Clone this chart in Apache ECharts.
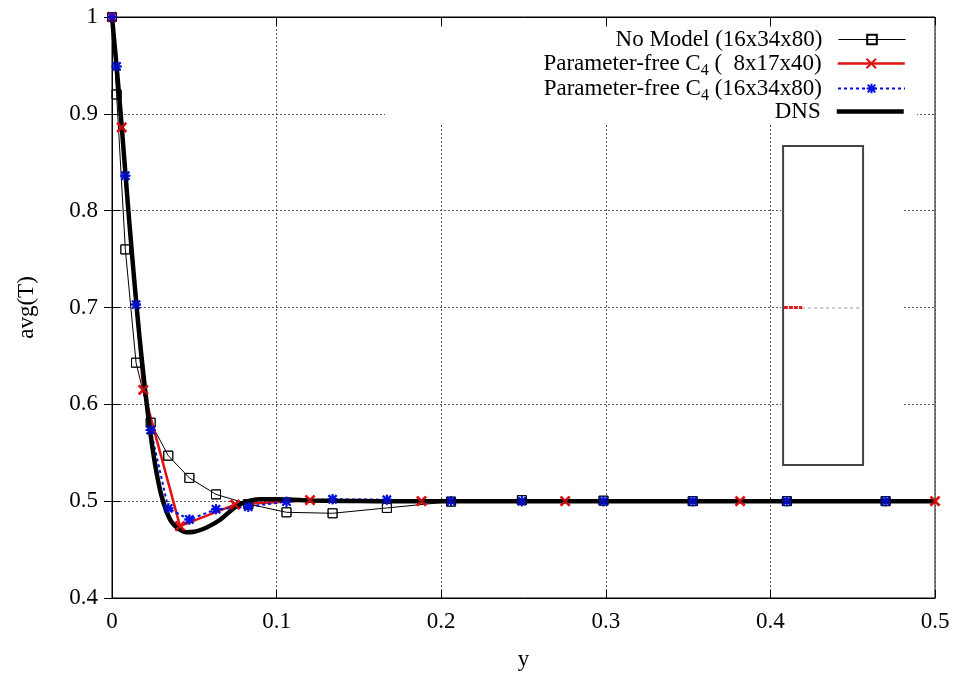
<!DOCTYPE html>
<html>
<head>
<meta charset="utf-8">
<script src="https://cdn.jsdelivr.net/npm/echarts@6/dist/echarts.min.js"></script>
<style>
  html, body { margin: 0; padding: 0; background: #fff; }
  #chart { width: 968px; height: 674px; }
</style>
</head>
<body>
<div id="chart"></div>
<script>
// Wall-normal positions of the 16x34x80 grid (half channel)
const yFine = [0, 0.0028, 0.0081, 0.0146, 0.0235, 0.0342, 0.047, 0.0632, 0.0828,
  0.106, 0.134, 0.167, 0.206, 0.249, 0.2986, 0.3528, 0.410, 0.470];
// Wall-normal positions of the 8x17x40 grid
const yCoarse = [0, 0.0059, 0.019, 0.0413, 0.0747, 0.1203, 0.188, 0.2753, 0.3816, 0.5];

const noModelT = [1.0, 0.92, 0.760, 0.643, 0.581, 0.547, 0.524, 0.507, 0.497,
  0.4885, 0.4875, 0.493, 0.4995, 0.501, 0.5005, 0.5, 0.5, 0.5];
const c4CoarseT = [1.0, 0.886, 0.615, 0.4743, 0.4965, 0.501, 0.5, 0.5, 0.5, 0.5];
const c4FineT = [1.0, 0.949, 0.836, 0.703, 0.5735, 0.4926, 0.481, 0.4916, 0.4943,
  0.4995, 0.502, 0.5015, 0.5, 0.5, 0.5, 0.5, 0.5, 0.5];

// Reference DNS profile
const yDns = [0, 0.003, 0.006, 0.009, 0.012, 0.015, 0.018, 0.021, 0.024, 0.027, 0.030,
  0.033, 0.036, 0.040, 0.045, 0.050, 0.055, 0.060, 0.065, 0.070, 0.075, 0.080, 0.085,
  0.090, 0.100, 0.110, 0.120, 0.140, 0.160, 0.5];
const dnsT = [1.0, 0.945, 0.885, 0.820, 0.758, 0.700, 0.648, 0.602, 0.562, 0.530, 0.506,
  0.490, 0.479, 0.472, 0.468, 0.4685, 0.471, 0.475, 0.480, 0.487, 0.494, 0.4985, 0.501,
  0.502, 0.502, 0.5015, 0.5008, 0.5003, 0.5, 0.5];

const xTicks = [0, 0.1, 0.2, 0.3, 0.4, 0.5];
const xTickLabels = ['0', '0.1', '0.2', '0.3', '0.4', '0.5'];
const yTicks = [0.4, 0.5, 0.6, 0.7, 0.8, 0.9, 1.0];
const yTickLabels = ['0.4', '0.5', '0.6', '0.7', '0.8', '0.9', '1'];

const seriesNames = ['No Model (16x34x80)', 'Parameter-free C4 (  8x17x40)',
  'Parameter-free C4 (16x34x80)', 'DNS'];

// Empty inset frame in the upper right (data units)
const insetBox = { x0: 0.4077, x1: 0.4563, y0: 0.5373, y1: 0.8668 };
const insetKey = { y: 0.7, xRed0: 0.4077, xRed1: 0.4193, xGrey1: 0.456 };
// Areas left clear of grid lines (key block and inset)
const keyClear = { x0: 0.1659, x1: 0.489, y0: 0.8905, y1: 0.9886 };
const insetClear = { x0: 0.4064, x1: 0.4806, y0: 0.5239, y1: 0.8781 };

const pairs = (xs, ys) => xs.map((x, i) => [x, ys[i]]);
const FONT = 'Liberation Serif';
const FS = 23;

const BLACK = '#000';
const RED = '#e01010';
const BLUE = '#0010e0';
const SQUARE = 'rect';
const CROSS = 'path://M0,0L10,10M10,0L0,10';
const STAR = 'path://M5,0L5,10M0,5L10,5M1,1L9,9M9,1L1,9';

const tickLabel = (ticks, labels) => v => {
  const i = ticks.findIndex(t => Math.abs(t - v) < 1e-9);
  return i >= 0 ? labels[i] : '';
};

const legendText = name => name.replace('C4', 'C{sub|4}');
const legendBase = {
  orient: 'horizontal',
  right: 62,
  align: 'right',
  padding: 0,
  itemWidth: 67,
  itemHeight: 12,
  selectedMode: false,
  formatter: legendText,
  textStyle: {
    fontFamily: FONT, fontSize: FS, color: '#000',
    padding: [0, 11, 0, 0],
    rich: { sub: { fontFamily: FONT, fontSize: 16, padding: [15, 0, 0, 0], color: '#000' } }
  }
};
const legendTops = [28, 52, 77, 100];
const legendExtra = [
  { lineStyle: { width: 1 } },
  { lineStyle: { width: 2.5 } },
  { lineStyle: { width: 2 } },
  { lineStyle: { width: 4.5 }, itemStyle: { color: 'rgba(0,0,0,0)', borderWidth: 0 } }
];

// markers drawn above every curve
const markerLayer = (xs, ys, symbol, size, itemStyle, z) => ({
  type: 'scatter', data: pairs(xs, ys), symbol, symbolSize: size, z, silent: true, itemStyle
});

const chart = echarts.init(document.getElementById('chart'));
chart.setOption({
  animation: false,
  backgroundColor: '#fff',
  grid: {
    left: 112, right: 33, top: 17, bottom: 76, outerBoundsMode: 'none',
    show: true, borderColor: '#000', borderWidth: 1, backgroundColor: 'transparent'
  },
  legend: seriesNames.map((n, i) => Object.assign({}, legendBase, legendExtra[i], { data: [n], top: legendTops[i] })),
  xAxis: [{
    type: 'value', min: 0, max: 0.5, interval: 0.1,
    name: 'y', nameLocation: 'middle', nameGap: 50,
    nameTextStyle: { fontFamily: FONT, fontSize: FS, color: '#000' },
    axisLine: { show: true, lineStyle: { color: '#000', width: 1 } },
    axisTick: { show: true, inside: true, length: 8, lineStyle: { color: '#000' } },
    axisLabel: { fontFamily: FONT, fontSize: FS, color: '#000', margin: 12, formatter: tickLabel(xTicks, xTickLabels) },
    splitLine: { show: true, lineStyle: { color: '#555', width: 1, type: [2, 2] } }
  }, {
    type: 'value', min: 0, max: 0.5, interval: 0.1, position: 'top',
    axisLine: { show: true, lineStyle: { color: '#000', width: 1 } },
    axisTick: { show: true, inside: true, length: 8, lineStyle: { color: '#000' } },
    axisLabel: { show: false }, splitLine: { show: false }
  }],
  yAxis: [{
    type: 'value', min: 0.4, max: 1.0, interval: 0.1,
    name: 'avg(T)', nameLocation: 'middle', nameGap: 74, nameRotate: 90,
    nameTextStyle: { fontFamily: FONT, fontSize: FS, color: '#000' },
    axisLine: { show: true, lineStyle: { color: '#000', width: 1 } },
    axisTick: { show: true, inside: true, length: 8, lineStyle: { color: '#000' } },
    axisLabel: { fontFamily: FONT, fontSize: FS, color: '#000', margin: 14, formatter: tickLabel(yTicks, yTickLabels) },
    splitLine: { show: true, lineStyle: { color: '#555', width: 1, type: [2, 2] } }
  }, {
    type: 'value', min: 0.4, max: 1.0, interval: 0.1, position: 'right',
    axisLine: { show: true, lineStyle: { color: '#000', width: 1 } },
    axisTick: { show: true, inside: true, length: 8, lineStyle: { color: '#000' } },
    axisLabel: { show: false }, splitLine: { show: false }
  }],
  series: [
    {
      // clear zones and the inset frame with its short key line
      type: 'line', data: [], silent: true, z: 1,
      markArea: {
        silent: true,
        label: { show: false },
        data: [
          [{ coord: [keyClear.x0, keyClear.y1], itemStyle: { color: '#fff', borderWidth: 0 } }, { coord: [keyClear.x1, keyClear.y0] }],
          [{ coord: [insetClear.x0, insetClear.y1], itemStyle: { color: '#fff', borderWidth: 0 } }, { coord: [insetClear.x1, insetClear.y0] }],
          [{ coord: [insetBox.x0, insetBox.y1], itemStyle: { color: 'rgba(0,0,0,0)', borderColor: '#444', borderWidth: 2 } }, { coord: [insetBox.x1, insetBox.y0] }]
        ]
      },
      markLine: {
        silent: true, symbol: 'none', label: { show: false },
        data: [
          [{ coord: [insetKey.xRed1, insetKey.y], lineStyle: { color: '#bbb', width: 1.5, type: [3, 3] } }, { coord: [insetKey.xGrey1, insetKey.y] }],
          [{ coord: [insetKey.xRed0 + 0.0005, insetKey.y], lineStyle: { color: '#e02020', width: 3, type: [4, 1] } }, { coord: [insetKey.xRed1, insetKey.y] }]
        ]
      }
    },
    {
      name: seriesNames[0], type: 'line', z: 3,
      data: pairs(yFine, noModelT), symbol: SQUARE, symbolSize: 9,
      color: BLACK,
      lineStyle: { color: BLACK, width: 1 },
      itemStyle: { color: 'rgba(255,255,255,0)', borderColor: BLACK, borderWidth: 1 }
    },
    {
      name: seriesNames[1], type: 'line', z: 4,
      data: pairs(yCoarse, c4CoarseT), symbol: CROSS, symbolSize: 9,
      color: RED,
      lineStyle: { color: RED, width: 2.5 },
      itemStyle: { color: RED, borderColor: RED, borderWidth: 2.5 }
    },
    {
      name: seriesNames[2], type: 'line', z: 5,
      data: pairs(yFine, c4FineT), symbol: STAR, symbolSize: 10,
      color: BLUE,
      lineStyle: { color: BLUE, width: 2, type: [3, 3] },
      itemStyle: { color: BLUE, borderColor: BLUE, borderWidth: 2 }
    },
    {
      name: seriesNames[3], type: 'line', z: 6,
      data: pairs(yDns, dnsT), symbol: 'none', smooth: 0.3,
      color: BLACK,
      lineStyle: { color: BLACK, width: 4.5 }
    },
    markerLayer(yFine, noModelT, SQUARE, 9, { color: 'rgba(255,255,255,0)', borderColor: BLACK, borderWidth: 1 }, 7),
    markerLayer(yCoarse, c4CoarseT, CROSS, 9, { color: RED, borderColor: RED, borderWidth: 2.5 }, 8),
    markerLayer(yFine, c4FineT, STAR, 10, { color: BLUE, borderColor: BLUE, borderWidth: 2 }, 9)
  ]
});
</script>
</body>
</html>
